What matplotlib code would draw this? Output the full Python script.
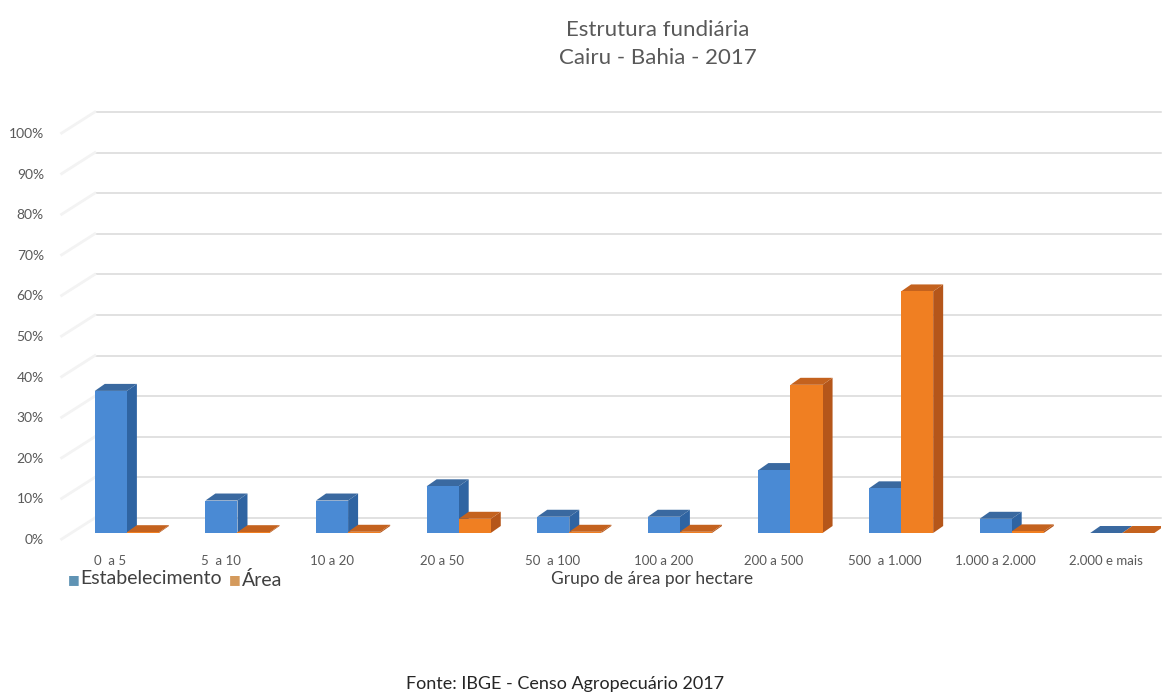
import numpy as np
import matplotlib.pyplot as plt
from matplotlib.patches import Polygon
from matplotlib.transforms import ScaledTranslation

plt.rcParams['font.family'] = ['Lato', 'DejaVu Sans']

# land structure, share of establishments and of area per size group (%)
grupos = ['0  a 5', '5  a 10', '10 a 20', '20 a 50', '50  a 100', '100 a 200',
          '200 a 500', '500  a 1.000', '1.000 a 2.000', '2.000 e mais']
estabelecimento = [35.0, 8.0, 8.0, 11.5, 4.0, 4.0, 15.5, 11.0, 3.5, 0.0]
area = [0.2, 0.2, 0.3, 3.5, 0.3, 0.3, 36.5, 59.5, 0.4, 0.0]

# front / side / top shades for each series
cores_est = ('#4a8ad4', '#2f64a2', '#3a69a0')
cores_area = ('#f07f22', '#b5561a', '#c4621e')

fig = plt.figure(figsize=(11.73, 6.95), dpi=100)
ax = fig.add_axes([55/1173, 162/695, 1106/1173, 426.3/695])
ax.set_xlim(-0.5, 9.5)
ax.set_ylim(0, 105)

dpi = fig.dpi
px = 1.0 / dpi
# back wall sits a little above the bars' front plane
back = ScaledTranslation(0, 15*px, fig.dpi_scale_trans)

x = np.arange(len(grupos))
for v in range(0, 101, 10):
    ax.plot([0.036, 1], [v, v], color='#d9d9d9', lw=1.1, zorder=0,
            transform=ax.get_yaxis_transform() + back, clip_on=False)
    # faint side wall going out to the front
    ax.plot([0.006, 0.036], [v - 1.5, v + 3.7], color='#f3f3f3', lw=2, zorder=0,
            transform=ax.get_yaxis_transform(), clip_on=False)

w = 0.29
shift = 0.15
dx = 10 / 110.6
dy = 7 / 4.06


def barra3d(xc, h, cores):
    frente, lado, topo = cores
    x0, x1 = xc - w/2, xc + w/2
    ax.add_patch(Polygon([(x1, 0), (x1 + dx, dy), (x1 + dx, h + dy), (x1, h)],
                         closed=True, fc=lado, ec='none', zorder=2))
    ax.add_patch(Polygon([(x0, h), (x0 + dx, h + dy), (x1 + dx, h + dy), (x1, h)],
                         closed=True, fc=topo, ec='none', zorder=2))
    ax.bar(xc, h, width=w, color=frente, edgecolor='none', zorder=2)


for i in x:
    barra3d(i + shift - w/2, estabelecimento[i], cores_est)
    barra3d(i + shift + w/2, area[i], cores_area)

for s in ax.spines.values():
    s.set_visible(False)

ax.set_yticks(range(0, 101, 10))
ax.set_yticklabels([f'{v}%' for v in range(0, 101, 10)])
ax.set_xticks(x)
ax.set_xticklabels(grupos)
ax.tick_params(axis='y', length=0, pad=8, labelsize=10, labelcolor='#595959')
ax.tick_params(axis='x', length=0, pad=16, labelsize=9.5, labelcolor='#595959')
for lab in ax.get_yticklabels():
    lab.set_transform(lab.get_transform() + ScaledTranslation(0, -6*px, fig.dpi_scale_trans))

# titles and captions
fig.text(658/1173, 1 - 30/695, 'Estrutura fundiária', ha='center', va='center',
         fontsize=16, color='#595959')
fig.text(658/1173, 1 - 58/695, 'Cairu - Bahia - 2017', ha='center', va='center',
         fontsize=16, color='#595959')
fig.text(652/1173, 1 - 579/695, 'Grupo de área por hectare', ha='center', va='center',
         fontsize=12.5, color='#404040')
fig.text(565/1173, 1 - 684/695, 'Fonte: IBGE - Censo Agropecuário 2017', ha='center',
         va='center', fontsize=13, color='#262626')

# legend
fig.text(68/1173, 1 - 579/695, '■', ha='left', va='center', fontsize=9, color='#5f93b4')
fig.text(80/1173, 1 - 578/695, 'Estabelecimento', ha='left', va='center',
         fontsize=14, color='#404040')
fig.text(229/1173, 1 - 579/695, '■', ha='left', va='center', fontsize=9, color='#d49a5c')
fig.text(242/1173, 1 - 580/695, 'Área', ha='left', va='center',
         fontsize=14, color='#404040')

fig.savefig('out.png', dpi=100)
